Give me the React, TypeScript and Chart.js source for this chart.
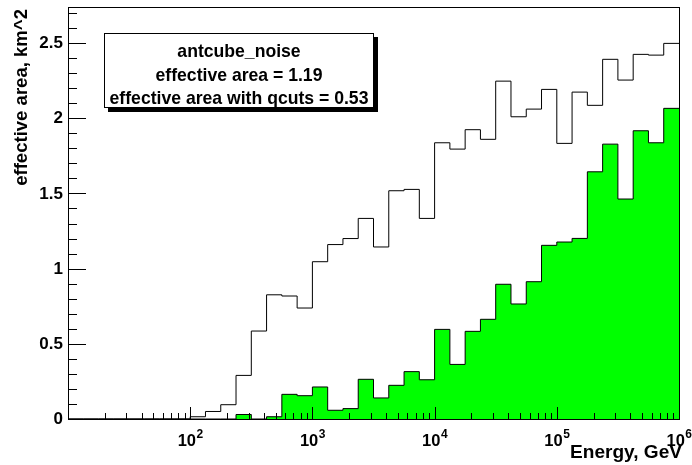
import React, { useEffect, useRef } from 'react';
import { Chart, registerables } from 'chart.js';

Chart.register(...registerables);

// Histogram binning: 8 bins per decade from 10^1 to 10^6 GeV
const binsPerDecade = 8;
const minExponent = 1;
const maxExponent = 6;

// effective area (km^2), all events
const totalArea = [
  0, 0, 0, 0, 0, 0, 0, 0,
  0.015, 0.05, 0.095, 0.29, 0.585, 0.826, 0.818, 0.738,
  1.046, 1.16, 1.2, 1.334, 1.144, 1.518, 1.527, 1.334,
  1.837, 1.795, 1.924, 1.86, 2.247, 2.01, 2.061, 2.192,
  1.833, 2.174, 2.086, 2.392, 2.254, 2.425, 2.42, 2.498,
];

// effective area (km^2) with qcuts
const qcutArea = [
  0, 0, 0, 0, 0, 0, 0, 0,
  0, 0, 0, 0.03, 0, 0.015, 0.164, 0.155,
  0.213, 0.058, 0.069, 0.264, 0.14, 0.224, 0.315, 0.261,
  0.596, 0.363, 0.583, 0.663, 0.896, 0.765, 0.913, 1.155,
  1.177, 1.201, 1.644, 1.828, 1.463, 1.917, 1.837, 2.066,
];

const yTickLabels = ['0', '0.5', '1', '1.5', '2', '2.5'];
const xDecades = [2, 3, 4, 5, 6];
const legendLines = ['antcube_noise', 'effective area = 1.19', 'effective area with qcuts = 0.53'];
const xTitle = 'Energy, GeV';
const yTitle = 'effective area, km^2';

const FONT = '"Liberation Sans", Arial, Helvetica, sans-serif';

function toSteps(values: number[]) {
  const pts = values.map((v, k) => ({ x: Math.pow(10, minExponent + k / binsPerDecade), y: v }));
  pts.push({ x: Math.pow(10, maxExponent), y: values[values.length - 1] });
  return pts;
}

function fitFont(ctx: CanvasRenderingContext2D, text: string, width: number) {
  ctx.font = `bold 20px ${FONT}`;
  const w = ctx.measureText(text).width;
  const size = (20 * width) / w;
  return `bold ${size.toFixed(2)}px ${FONT}`;
}

const rootPlugin = {
  id: 'rootDecor',
  afterDatasetsDraw(chart: any) {
    const ctx = chart.ctx as CanvasRenderingContext2D;
    const xs = chart.scales.x;
    const ys = chart.scales.y;
    const { left, right, top, bottom } = chart.chartArea;
    ctx.save();
    ctx.strokeStyle = '#000';
    ctx.fillStyle = '#000';
    ctx.lineWidth = 1;

    // frame
    ctx.strokeRect(Math.round(left) + 0.5, Math.round(top) + 0.5, Math.round(right - left), Math.round(bottom - top));

    // y ticks (inward)
    for (let i = 0; i <= 27; i++) {
      const v = i / 10;
      const y = Math.round(ys.getPixelForValue(v)) + 0.5;
      const len = i % 5 === 0 ? 18 : 9;
      ctx.beginPath();
      ctx.moveTo(left, y);
      ctx.lineTo(left + len, y);
      ctx.stroke();
    }
    // x ticks (inward, upward)
    for (let d = minExponent; d < maxExponent; d++) {
      for (let m = 1; m <= 9; m++) {
        const v = m * Math.pow(10, d);
        const x = Math.round(xs.getPixelForValue(v)) + 0.5;
        const len = m === 1 ? 12 : 6;
        ctx.beginPath();
        ctx.moveTo(x, bottom);
        ctx.lineTo(x, bottom - len);
        ctx.stroke();
      }
    }

    // y labels
    ctx.font = `bold 17px ${FONT}`;
    ctx.textAlign = 'right';
    ctx.textBaseline = 'middle';
    yTickLabels.forEach((t) => {
      const y = ys.getPixelForValue(parseFloat(t));
      ctx.fillText(t, left - 5, y + 0.5);
    });

    // x labels 10^n
    xDecades.forEach((d) => {
      const x = xs.getPixelForValue(Math.pow(10, d));
      ctx.font = `bold 16.5px ${FONT}`;
      const wb = ctx.measureText('10').width;
      ctx.font = `bold 12px ${FONT}`;
      const we = ctx.measureText(String(d)).width;
      const start = x - (wb + we) / 2;
      ctx.textAlign = 'left';
      ctx.textBaseline = 'alphabetic';
      ctx.font = `bold 16.5px ${FONT}`;
      ctx.fillText('10', start, 446);
      ctx.font = `bold 12px ${FONT}`;
      ctx.fillText(String(d), start + wb + 0.5, 437.5);
    });

    // x title
    ctx.font = fitFont(ctx, xTitle, 112);
    ctx.textAlign = 'right';
    ctx.textBaseline = 'alphabetic';
    ctx.fillText(xTitle, 682, 458);

    // y title
    ctx.save();
    ctx.translate(27, 9);
    ctx.rotate(-Math.PI / 2);
    ctx.font = fitFont(ctx, yTitle, 177);
    ctx.textAlign = 'right';
    ctx.textBaseline = 'alphabetic';
    ctx.fillText(yTitle, 0, 0);
    ctx.restore();

    // legend box
    const bx = 104, by = 33, bw = 269, bh = 74;
    ctx.fillStyle = '#000';
    ctx.fillRect(bx + 4, by + 4, bw + 1, bh + 1);
    ctx.fillStyle = '#fff';
    ctx.fillRect(bx, by, bw, bh);
    ctx.strokeStyle = '#000';
    ctx.strokeRect(bx + 0.5, by + 0.5, bw, bh);
    ctx.fillStyle = '#000';
    ctx.font = fitFont(ctx, legendLines[2], 259);
    ctx.textAlign = 'center';
    ctx.textBaseline = 'alphabetic';
    const baselines = [57, 80.5, 104];
    legendLines.forEach((t, i) => ctx.fillText(t, bx + bw / 2 + 0.5, baselines[i]));

    ctx.restore();
  },
};

export default function App() {
  const ref = useRef<HTMLCanvasElement | null>(null);
  useEffect(() => {
    document.body.style.margin = '0';
    document.body.style.background = '#fff';
    const chart = new Chart(ref.current as HTMLCanvasElement, {
      type: 'line',
      data: {
        datasets: [
          {
            label: 'qcuts',
            data: toSteps(qcutArea),
            stepped: true,
            borderColor: '#000',
            borderWidth: 1,
            backgroundColor: '#00ff00',
            fill: 'origin',
            pointRadius: 0,
          },
          {
            label: 'all',
            data: toSteps(totalArea),
            stepped: true,
            borderColor: '#000',
            borderWidth: 1,
            fill: false,
            pointRadius: 0,
          },
        ],
      },
      options: {
        animation: false,
        responsive: false,
        maintainAspectRatio: false,
        layout: { padding: { left: 68, right: 13, top: 7, bottom: 46 } },
        plugins: { legend: { display: false }, tooltip: { enabled: false }, title: { display: false } },
        scales: {
          x: { type: 'logarithmic', min: 10, max: 1e6, display: false },
          y: { type: 'linear', min: 0, max: 2.74, display: false },
        },
      },
      plugins: [rootPlugin],
    });
    return () => chart.destroy();
  }, []);
  return (
    <div style={{ position: 'absolute', left: 0, top: 0, width: 692, height: 465, background: '#fff' }}>
      <canvas ref={ref} width={692} height={465} style={{ display: 'block' }} />
    </div>
  );
}
